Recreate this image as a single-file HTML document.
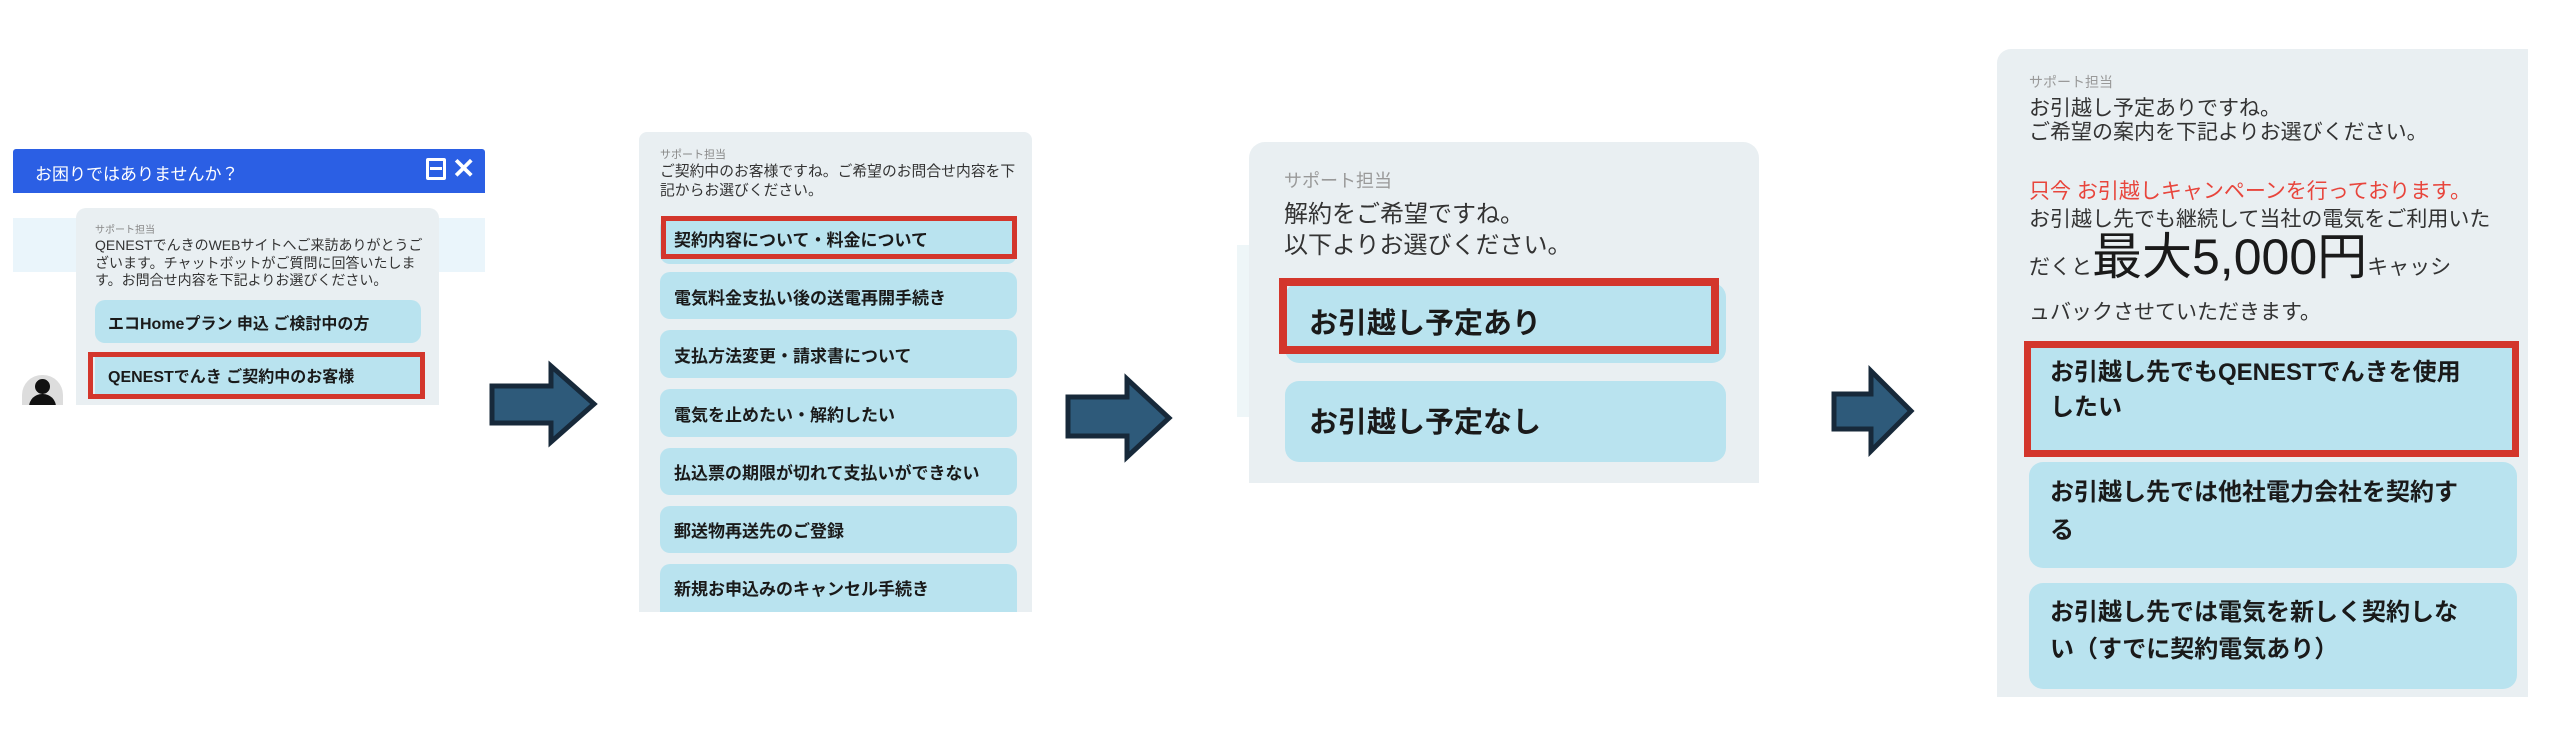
<!DOCTYPE html>
<html><head><meta charset="utf-8">
<style>
body{margin:0;width:2552px;height:736px;background:#fff;position:relative;overflow:hidden;font-family:"Liberation Sans","Noto Sans CJK JP",sans-serif;color:#222}
.a{position:absolute;box-sizing:border-box}
.btn{position:absolute;box-sizing:border-box;background:#b9e3ef;border-radius:10px}
.red{position:absolute;box-sizing:border-box;border:5px solid #d3362c}
.sub{position:absolute;color:#888;white-space:nowrap}
.t{position:absolute;white-space:nowrap;color:#333}
.b{position:absolute;white-space:nowrap;font-weight:bold;color:#1a1a1a}
</style></head><body>

<!-- Panel 1 -->
<div class="a" style="left:13px;top:149px;width:472px;height:44px;background:#2b5fe4;border-radius:3px 3px 0 0"></div>
<div class="t" style="left:35px;top:160px;font-size:17px;color:#fff">お困りではありませんか？</div>
<div class="a" style="left:426px;top:158px;width:20px;height:22px;border:3px solid #fff;border-radius:2px"></div>
<div class="a" style="left:430px;top:167px;width:12px;height:3px;background:#fff"></div>
<div class="t" style="left:452px;top:152px;font-size:28px;font-weight:bold;color:#fff">✕</div>
<div class="a" style="left:13px;top:218px;width:472px;height:54px;background:#eaf5fb"></div>
<div class="a" style="left:76px;top:208px;width:363px;height:197px;background:#e9eff2;border-radius:10px 10px 0 0"></div>
<div class="sub" style="left:95px;top:221px;font-size:10px">サポート担当</div>
<div class="t" style="left:95px;top:237px;font-size:14px;line-height:17.5px">QENESTでんきのWEBサイトへご来訪ありがとうご<br>ざいます。チャットボットがご質問に回答いたしま<br>す。お問合せ内容を下記よりお選びください。</div>
<div class="btn" style="left:95px;top:300px;width:326px;height:43px"></div>
<div class="b" style="left:108px;top:310px;font-size:16px">エコHomeプラン 申込 ご検討中の方</div>
<div class="btn" style="left:95px;top:355px;width:326px;height:42px;border-radius:0"></div>
<div class="red" style="left:88px;top:352px;width:337px;height:47px"></div>
<div class="b" style="left:108px;top:363px;font-size:16px">QENESTでんき ご契約中のお客様</div>
<div class="a" style="left:22px;top:375px;width:41px;height:30px;background:#ddd;border-radius:20px 20px 0 0;overflow:hidden">
 <div class="a" style="left:13px;top:4px;width:15px;height:15px;background:#111;border-radius:50%"></div>
 <div class="a" style="left:7px;top:19px;width:27px;height:16px;background:#111;border-radius:13px 13px 0 0"></div>
</div>

<!-- Arrows -->
<svg class="a" style="left:0;top:0" width="2552" height="736">
 <g fill="#2e5a7a" stroke="#17293a" stroke-width="5" stroke-linejoin="miter">
  <polygon points="492,386 551,386 551,366 594,404 551,442 551,423 492,423"/>
  <polygon points="1068,397 1127,397 1127,379 1169,418 1127,457 1127,436 1068,436"/>
  <polygon points="1834,394 1871,394 1871,371 1911,411 1871,451 1871,429 1834,429"/>
 </g>
</svg>

<!-- Panel 2 -->
<div class="a" style="left:639px;top:132px;width:393px;height:480px;background:#e9eff2;border-radius:8px 8px 0 0"></div>
<div class="sub" style="left:660px;top:146px;font-size:11px">サポート担当</div>
<div class="t" style="left:660px;top:163px;font-size:14.8px;line-height:19px">ご契約中のお客様ですね。ご希望のお問合せ内容を下<br>記からお選びください。</div>
<div class="btn" style="left:660px;top:218px;width:357px;height:46px"></div>
<div class="red" style="left:661px;top:216px;width:356px;height:43px"></div>
<div class="b" style="left:674px;top:226px;font-size:17px">契約内容について・料金について</div>
<div class="btn" style="left:660px;top:272px;width:357px;height:47px"></div>
<div class="b" style="left:674px;top:284px;font-size:17px">電気料金支払い後の送電再開手続き</div>
<div class="btn" style="left:660px;top:330px;width:357px;height:48px"></div>
<div class="b" style="left:674px;top:342px;font-size:17px">支払方法変更・請求書について</div>
<div class="btn" style="left:660px;top:389px;width:357px;height:48px"></div>
<div class="b" style="left:674px;top:401px;font-size:17px">電気を止めたい・解約したい</div>
<div class="btn" style="left:660px;top:448px;width:357px;height:47px"></div>
<div class="b" style="left:674px;top:459px;font-size:17px">払込票の期限が切れて支払いができない</div>
<div class="btn" style="left:660px;top:506px;width:357px;height:47px"></div>
<div class="b" style="left:674px;top:517px;font-size:17px">郵送物再送先のご登録</div>
<div class="btn" style="left:660px;top:564px;width:357px;height:48px;border-radius:10px 10px 0 0"></div>
<div class="b" style="left:674px;top:575px;font-size:17px">新規お申込みのキャンセル手続き</div>

<!-- Panel 3 -->
<div class="a" style="left:1237px;top:245px;width:14px;height:172px;background:#eef6f8"></div>
<div class="a" style="left:1249px;top:142px;width:510px;height:341px;background:#e9eff2;border-radius:16px 16px 0 0"></div>
<div class="sub" style="left:1284px;top:167px;font-size:18px;color:#999">サポート担当</div>
<div class="t" style="left:1284px;top:199px;font-size:24px;line-height:31px">解約をご希望ですね。<br>以下よりお選びください。</div>
<div class="btn" style="left:1285px;top:283px;width:441px;height:80px;border-radius:14px"></div>
<div class="red" style="left:1279px;top:278px;width:440px;height:76px;border-width:8px"></div>
<div class="b" style="left:1309px;top:300px;font-size:29px">お引越し予定あり</div>
<div class="btn" style="left:1285px;top:381px;width:441px;height:81px;border-radius:14px"></div>
<div class="b" style="left:1309px;top:399px;font-size:29px">お引越し予定なし</div>

<!-- Panel 4 -->
<div class="a" style="left:1997px;top:49px;width:531px;height:648px;background:#e9eff2;border-radius:14px 0 0 0"></div>
<div class="sub" style="left:2029px;top:72px;font-size:14px;color:#999">サポート担当</div>
<div class="t" style="left:2029px;top:97px;font-size:21px;line-height:24px">お引越し予定ありですね。<br>ご希望の案内を下記よりお選びください。</div>
<div class="t" style="left:2029px;top:175px;font-size:21px;color:#e8453c">只今 お引越しキャンペーンを行っております。</div>
<div class="t" style="left:2029px;top:203px;font-size:21px">お引越し先でも継続して当社の電気をご利用いた</div>
<div class="t" style="left:2029px;top:228px;font-size:21px;line-height:58px">だくと<span style="font-size:50px;color:#1a1a1a">最大5,000円</span>キャッシ</div>
<div class="t" style="left:2029px;top:296px;font-size:21px">ュバックさせていただきます。</div>
<div class="btn" style="left:2029px;top:344px;width:488px;height:110px;border-radius:0"></div>
<div class="red" style="left:2024px;top:341px;width:495px;height:116px;border-width:7px"></div>
<div class="b" style="left:2050px;top:355px;font-size:24px;line-height:35px">お引越し先でもQENESTでんきを使用<br>したい</div>
<div class="btn" style="left:2029px;top:462px;width:488px;height:106px;border-radius:14px"></div>
<div class="b" style="left:2050px;top:474px;font-size:24px;line-height:38px">お引越し先では他社電力会社を契約す<br>る</div>
<div class="btn" style="left:2029px;top:583px;width:488px;height:106px;border-radius:14px"></div>
<div class="b" style="left:2050px;top:594px;font-size:24px;line-height:37px">お引越し先では電気を新しく契約しな<br>い（すでに契約電気あり）</div>

</body></html>
